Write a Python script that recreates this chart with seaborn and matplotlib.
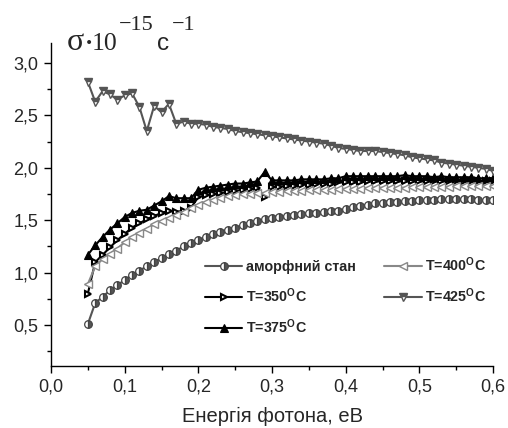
import numpy as np
import matplotlib
matplotlib.use('Agg')
import matplotlib.pyplot as plt
import seaborn as sns

# ---------------------------------------------------------------------------
# data
# ---------------------------------------------------------------------------
energy = [0.05, 0.06, 0.07, 0.08, 0.09, 0.10, 0.11, 0.12, 0.13, 0.14,
          0.15, 0.16, 0.17, 0.18, 0.19, 0.20, 0.21, 0.22, 0.23, 0.24,
          0.25, 0.26, 0.27, 0.28, 0.29, 0.30, 0.31, 0.32, 0.33, 0.34,
          0.35, 0.36, 0.37, 0.38, 0.39, 0.40, 0.41, 0.42, 0.43, 0.44,
          0.45, 0.46, 0.47, 0.48, 0.49, 0.50, 0.51, 0.52, 0.53, 0.54,
          0.55, 0.56, 0.57, 0.58, 0.59, 0.60]

sigma_amorph = [0.51, 0.71, 0.77, 0.83, 0.88, 0.93, 0.98, 1.02, 1.06, 1.10,
                1.14, 1.18, 1.21, 1.25, 1.28, 1.31, 1.34, 1.37, 1.39, 1.41,
                1.43, 1.45, 1.47, 1.49, 1.51, 1.52, 1.53, 1.54, 1.55, 1.56,
                1.57, 1.57, 1.58, 1.59, 1.59, 1.61, 1.63, 1.64, 1.65, 1.66,
                1.66, 1.67, 1.67, 1.68, 1.68, 1.69, 1.69, 1.69, 1.70, 1.70,
                1.70, 1.70, 1.70, 1.69, 1.69, 1.69]

sigma_350 = [0.80, 1.10, 1.17, 1.24, 1.31, 1.37, 1.43, 1.47, 1.51, 1.54,
             1.57, 1.59, 1.58, 1.59, 1.62, 1.72, 1.74, 1.75, 1.76, 1.77,
             1.78, 1.79, 1.80, 1.81, 1.72, 1.82, 1.82, 1.83, 1.83, 1.84,
             1.84, 1.85, 1.85, 1.85, 1.86, 1.86, 1.86, 1.86, 1.87, 1.87,
             1.87, 1.87, 1.87, 1.87, 1.87, 1.87, 1.87, 1.87, 1.87, 1.87,
             1.87, 1.87, 1.87, 1.87, 1.87, 1.87]

sigma_375 = [1.17, 1.26, 1.34, 1.41, 1.47, 1.53, 1.57, 1.59, 1.60, 1.64,
             1.68, 1.73, 1.71, 1.71, 1.71, 1.79, 1.81, 1.82, 1.83, 1.84,
             1.85, 1.85, 1.86, 1.87, 1.96, 1.88, 1.88, 1.88, 1.88, 1.89,
             1.89, 1.89, 1.89, 1.90, 1.90, 1.92, 1.92, 1.92, 1.92, 1.92,
             1.92, 1.92, 1.92, 1.93, 1.92, 1.92, 1.92, 1.91, 1.92, 1.91,
             1.91, 1.91, 1.91, 1.90, 1.90, 1.90]

sigma_400 = [0.89, 1.06, 1.13, 1.18, 1.23, 1.29, 1.34, 1.38, 1.42, 1.46,
             1.49, 1.52, 1.55, 1.58, 1.62, 1.65, 1.67, 1.69, 1.71, 1.73,
             1.74, 1.75, 1.75, 1.76, 1.76, 1.77, 1.77, 1.78, 1.78, 1.78,
             1.79, 1.79, 1.79, 1.79, 1.80, 1.80, 1.80, 1.80, 1.81, 1.81,
             1.81, 1.81, 1.81, 1.81, 1.82, 1.82, 1.82, 1.82, 1.82, 1.82,
             1.83, 1.83, 1.83, 1.83, 1.83, 1.83]

sigma_425 = [2.82, 2.63, 2.73, 2.70, 2.65, 2.69, 2.71, 2.58, 2.35, 2.59,
             2.53, 2.61, 2.42, 2.44, 2.42, 2.42, 2.41, 2.39, 2.38, 2.37,
             2.35, 2.34, 2.33, 2.32, 2.31, 2.30, 2.29, 2.28, 2.27, 2.26,
             2.25, 2.24, 2.23, 2.21, 2.19, 2.18, 2.17, 2.16, 2.16, 2.16,
             2.15, 2.14, 2.13, 2.12, 2.10, 2.09, 2.08, 2.07, 2.05, 2.04,
             2.03, 2.02, 2.01, 2.00, 1.99, 1.97]

labels = ['аморфний стан', 'T=350$^\\mathrm{O}$C', 'T=375$^\\mathrm{O}$C',
          'T=400$^\\mathrm{O}$C', 'T=425$^\\mathrm{O}$C']

x_ticks = [0.0, 0.1, 0.2, 0.3, 0.4, 0.5, 0.6]
x_tick_labels = ['0,0', '0,1', '0,2', '0,3', '0,4', '0,5', '0,6']
y_ticks = [0.5, 1.0, 1.5, 2.0, 2.5, 3.0]
y_tick_labels = ['0,5', '1,0', '1,5', '2,0', '2,5', '3,0']

# ---------------------------------------------------------------------------
# style
# ---------------------------------------------------------------------------
sns.set_style('ticks')
plt.rcParams['font.family'] = ['Liberation Sans', 'DejaVu Sans']
plt.rcParams['mathtext.fontset'] = 'custom'
plt.rcParams['mathtext.rm'] = 'Liberation Sans:bold'
plt.rcParams['mathtext.bf'] = 'Liberation Sans:bold'
plt.rcParams['mathtext.it'] = 'Liberation Sans:bold'

fig = plt.figure(figsize=(5.08, 4.28), dpi=100)
ax = fig.add_axes([51 / 508, 62 / 428, 442 / 508, 323 / 428])

series = [
    (sigma_amorph, dict(color='#555555', marker='o', markersize=5.5, fillstyle='right',
                        markerfacecolor='#555555', markerfacecoloralt='white',
                        markeredgecolor='#444444', markeredgewidth=0.9)),
    (sigma_350, dict(color='black', marker='>', markersize=5, markerfacecolor='white',
                     markeredgecolor='black', markeredgewidth=1.5)),
    (sigma_375, dict(color='black', marker='^', markersize=6, markerfacecolor='black',
                     markeredgecolor='black', markeredgewidth=0.8)),
    (sigma_400, dict(color='#888888', marker='<', markersize=6, markerfacecolor='white',
                     markeredgecolor='#888888', markeredgewidth=1.0)),
    (sigma_425, dict(color='#555555', marker='v', markersize=6, fillstyle='top',
                     markerfacecolor='#555555', markerfacecoloralt='white',
                     markeredgecolor='#555555', markeredgewidth=1.0)),
]

for (vals, kw), lab in zip(series, labels):
    sns.lineplot(x=energy, y=vals, ax=ax, estimator=None, sort=False,
                 linewidth=1.5, label=lab, **kw)

ax.set_xlim(0.0, 0.6)
ax.set_ylim(0.11, 3.19)
ax.set_xticks(x_ticks)
ax.set_xticklabels(x_tick_labels, fontsize=13)
ax.set_yticks(y_ticks)
ax.set_yticklabels(y_tick_labels, fontsize=13)
ax.set_xticks(np.arange(0.05, 0.6, 0.1), minor=True)
ax.set_yticks([0.25, 0.75, 1.25, 1.75, 2.25, 2.75], minor=True)
ax.tick_params(which='major', direction='out', length=5, width=1.0, color='black', pad=4)
ax.tick_params(which='minor', direction='out', length=3, width=1.0, color='black')
sns.despine(ax=ax)
for sp in ['left', 'bottom']:
    ax.spines[sp].set_linewidth(1.0)
    ax.spines[sp].set_color('black')

ax.set_xlabel('Енергія фотона, еВ', fontsize=14.5, labelpad=8)
ax.set_ylabel('')

leg = ax.legend(ncol=2, loc='upper left', bbox_to_anchor=(0.336, 0.36), frameon=False,
                fontsize=10.3, handlelength=2.6, columnspacing=2.0, labelspacing=0.85,
                handletextpad=0.25, borderaxespad=0)
for t in leg.get_texts():
    t.set_fontweight('bold')

# y-axis title at the top left
fig.text(67 / 508, 1 - 50 / 428, 'σ', fontsize=23, family='Liberation Serif', va='baseline')
fig.text(85 / 508, 1 - 50 / 428, '·', fontsize=18, family='Liberation Serif',
         weight='bold', va='baseline')
fig.text(92 / 508, 1 - 50 / 428, '10', fontsize=18.5, family='Liberation Serif', va='baseline')
fig.text(119 / 508, 1 - 30 / 428, '−15', fontsize=16, family='Liberation Serif', va='baseline')
fig.text(157 / 508, 1 - 50 / 428, 'c', fontsize=17.5, family='Liberation Sans', va='baseline')
fig.text(172 / 508, 1 - 30 / 428, '−1', fontsize=16, family='Liberation Serif', va='baseline')

fig.savefig('out.png', dpi=100)
